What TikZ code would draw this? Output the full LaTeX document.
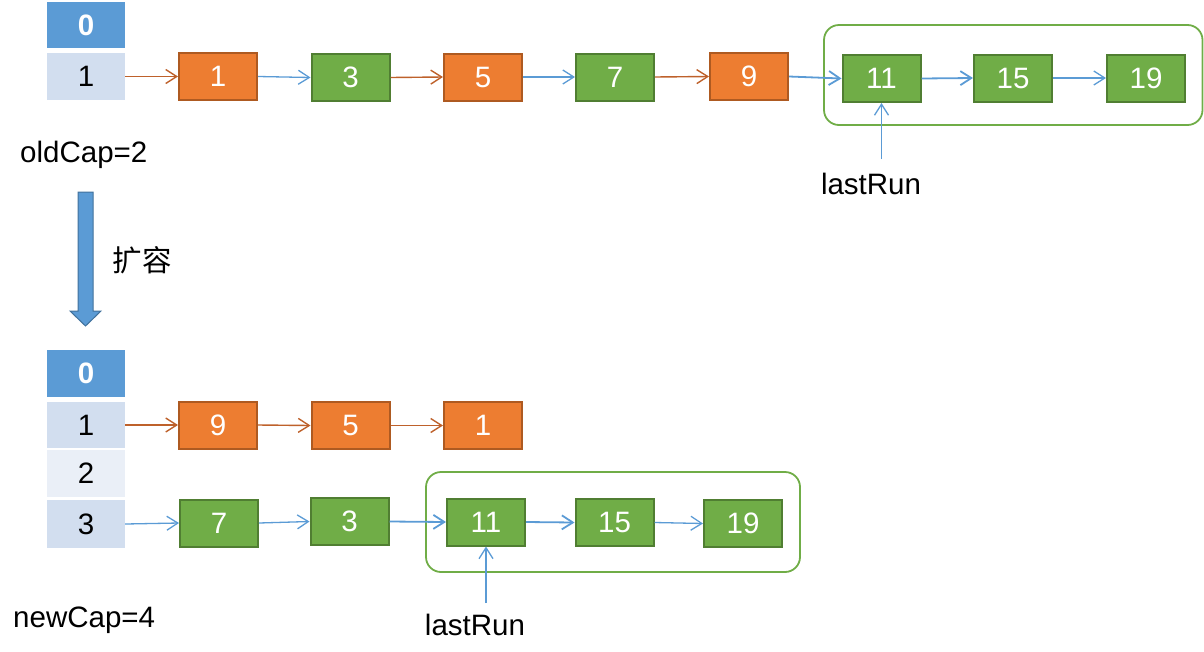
\documentclass[tikz,border=0pt]{standalone}
\usepackage{fontspec}
\setmainfont{Liberation Sans}
\newfontfamily\cjk{Noto Sans CJK SC}
\usetikzlibrary{arrows.meta}
\definecolor{hdrblue}{HTML}{5B9BD5}
\definecolor{bandA}{HTML}{D2DEEF}
\definecolor{bandB}{HTML}{EAEFF7}
\definecolor{gfill}{HTML}{70AD47}
\definecolor{gline}{HTML}{507E32}
\definecolor{ofill}{HTML}{ED7D31}
\definecolor{oline}{HTML}{AE5A21}
\definecolor{oarr}{HTML}{BE612B}
\definecolor{barr}{HTML}{5B9BD5}
\definecolor{bigline}{HTML}{41719C}
\tikzset{
  txt/.style={font=\fontsize{29.5}{35}\selectfont, inner sep=0pt},
  cellbox/.style={txt, minimum width=78pt, minimum height=46pt},
  hdrcell/.style={cellbox, fill=hdrblue, text=white, font=\fontsize{29.5}{35}\selectfont\bfseries},
  cellA/.style={cellbox, fill=bandA},
  cellB/.style={cellbox, fill=bandB},
  lnode/.style={txt, minimum width=78pt, minimum height=47pt, line width=2pt, text=white},
  gnode/.style={lnode, fill=gfill, draw=gline},
  onode/.style={lnode, fill=ofill, draw=oline},
  oarrow/.style={draw=oarr, line width=1.4pt, -{Straight Barb[length=11pt,width=14pt]}},
  barrow/.style={draw=barr, line width=1.3pt, -{Straight Barb[length=11pt,width=14pt]}},
  groupbox/.style={draw=gfill, line width=1.8pt, rounded corners=15pt, inner sep=0pt}
}
\begin{document}
\begin{tikzpicture}[x=1pt,y=-1pt]
\useasboundingbox (0,0) rectangle (1204,651);
% ---------- top ----------
\node[hdrcell] (a0) at (86,25) {0};
\node[cellA, minimum height=47pt] (a1) at (86,76.5) {1};
\node[txt, anchor=base west] (oldcap) at (20,162) {oldCap=2};

\draw[groupbox] (824,25) rectangle (1202.5,125);

\node[onode] (n1) at (218,76.5) {1};
\node[gnode] (n3) at (350.5,77.5) {3};
\node[onode] (n5) at (483,77) {5};
\node[gnode] (n7) at (615,77) {7};
\node[onode] (n9) at (749,76.5) {9};
\node[gnode] (n11) at (881.5,78.5) {11};
\node[gnode] (n15) at (1013,78) {15};
\node[gnode] (n19) at (1146,78) {19};

\draw[oarrow] (a1.east) -- (n1.west);
\draw[barrow] (n1.east) -- (n3.west);
\draw[oarrow] (n3.east) -- (n5.west);
\draw[barrow] (n5.east) -- (n7.west);
\draw[oarrow] (n7.east) -- (n9.west);
\draw[barrow, line width=1.8pt] (n9.east) -- (n11.west);
\draw[barrow, line width=1.8pt] (n11.east) -- (n15.west);
\draw[barrow] (n15.east) -- (n19.west);

\node[txt] (lr1) at (871,184) {lastRun};
\coordinate (lr1t) at (881.5,159);
\draw[barrow] (lr1t) -- (n11.south);

% ---------- big arrow ----------
\filldraw[fill=hdrblue, draw=bigline, line width=1pt]
  (78,192) -- (93,192) -- (93,311) -- (101,311) -- (85.5,326) -- (70,311) -- (78,311) -- cycle;
\node[font=\cjk\fontsize{29.5}{35}\selectfont, inner sep=0pt] (kr) at (142,260) {扩容};

% ---------- bottom ----------
\node[hdrcell, minimum height=47pt] (b0) at (86,373.5) {0};
\node[cellA] (b1) at (86,425) {1};
\node[cellB, minimum height=47pt] (b2) at (86,473.5) {2};
\node[cellA, minimum height=48pt] (b3) at (86,524) {3};
\node[txt, anchor=base west] (newcap) at (13,627) {newCap=4};

\draw[groupbox] (426,472) rectangle (800,572);

\node[onode] (m9) at (218,425) {9};
\node[onode] (m5) at (350.5,425.5) {5};
\node[onode] (m1) at (483,425.5) {1};
\node[gnode] (m7) at (219,523) {7};
\node[gnode] (m3) at (349.5,521.5) {3};
\node[gnode] (m11) at (486,522) {11};
\node[gnode] (m15) at (614.5,522.5) {15};
\node[gnode] (m19) at (743,523.5) {19};

\draw[oarrow] (b1.east) -- (m9.west);
\draw[oarrow] (m9.east) -- (m5.west);
\draw[oarrow] (m5.east) -- (m1.west);
\draw[barrow] (b3.east) -- (m7.west);
\draw[barrow] (m7.east) -- (m3.west);
\draw[barrow, line width=1.8pt] (m3.east) -- (m11.west);
\draw[barrow, line width=1.8pt] (m11.east) -- (m15.west);
\draw[barrow] (m15.east) -- (m19.west);

\node[txt] (lr2) at (475,625) {lastRun};
\coordinate (lr2t) at (486,603);
\draw[barrow] (lr2t) -- (m11.south);
\end{tikzpicture}
\end{document}
